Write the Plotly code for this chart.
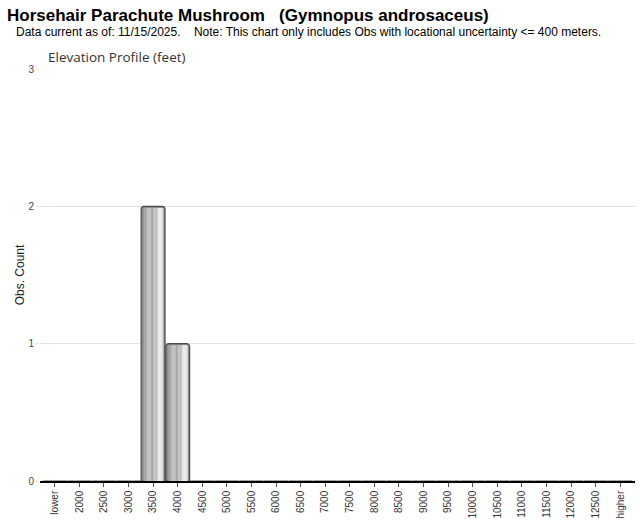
import plotly.graph_objects as go

categories = ["lower"] + [str(v) for v in range(2000, 13000, 500)] + ["higher"]
counts = [0, 0, 0, 0, 2, 1] + [0] * (len(categories) - 6)

title_text = "Horsehair Parachute Mushroom   (Gymnopus androsaceus)"
subtitle_text = "Data current as of: 11/15/2025.    Note: This chart only includes Obs with locational uncertainty <= 400 meters."
chart_label = "Elevation Profile (feet)"
y_title = "Obs. Count"

W, H = 640, 523
ML, MR, MT, MB = 40, 5, 69, 42
PW, PH = W - ML - MR, H - MT - MB

def px_x(px):
    return (px - ML) / PW

def px_y(py):
    return (H - MB - py) / PH

fig = go.Figure()
fig.add_trace(go.Bar(
    x=categories, y=counts, width=0.97,
    marker=dict(color="#8e8e8e", line=dict(color="#4a4a4a", width=1.2), cornerradius=3),
    hoverinfo="skip", showlegend=False,
))
# (left, right) edges in category units and colour, to mimic the cylindrical gradient
strips = [
    (-0.38, 0.42, "#a6a6a6"),
    (-0.26, -0.08, "#c2c2c2"),
    (0.00, 0.12, "#c6c6c6"),
    (0.14, 0.42, "#d4d4d4"),
    (0.20, 0.36, "#ebebeb"),
]
for lft, rgt, col in strips:
    fig.add_trace(go.Bar(
        x=categories, y=[c - 0.012 if c > 0 else 0 for c in counts],
        width=rgt - lft, offset=lft,
        marker=dict(color=col, line=dict(width=0)),
        hoverinfo="skip", showlegend=False,
    ))

fig.update_layout(
    width=W, height=H,
    margin=dict(l=ML, r=MR, t=MT, b=MB),
    paper_bgcolor="white", plot_bgcolor="white",
    barmode="overlay",
    font=dict(family="Liberation Sans, Arial, sans-serif", color="#222"),
    xaxis=dict(
        type="category", categoryorder="array", categoryarray=categories,
        tickangle=-90, tickfont=dict(size=10, color="#333"),
        showgrid=False, showline=True, linecolor="#000", linewidth=1.5,
        ticks="outside", ticklen=4, tickcolor="#555", tickwidth=1,
        range=[-0.6, len(categories) - 0.4],
    ),
    yaxis=dict(
        range=[0, 3], tickvals=[0, 1, 2, 3], tickfont=dict(size=10, color="#444"),
        showgrid=True, gridcolor="#e2e2e2", gridwidth=1, zeroline=False,
        ticks="outside", ticklen=3, tickcolor="#e2e2e2",
        title=dict(text=y_title, font=dict(size=12, color="#222"), standoff=1),
    ),
    annotations=[
        dict(text="<b>" + title_text + "</b>", xref="paper", yref="paper", x=px_x(5), y=px_y(15),
             xanchor="left", yanchor="middle", showarrow=False,
             font=dict(size=17, color="#000", family="Liberation Sans, Arial, sans-serif")),
        dict(text=subtitle_text, xref="paper", yref="paper", x=px_x(14), y=px_y(32),
             xanchor="left", yanchor="middle", showarrow=False,
             font=dict(size=12, color="#000", family="Liberation Sans, Arial, sans-serif")),
        dict(text=chart_label, xref="paper", yref="paper", x=px_x(46), y=px_y(57),
             xanchor="left", yanchor="middle", showarrow=False,
             font=dict(size=13.5, color="#333", family="Open Sans, sans-serif")),
    ],
)

fig.write_html("out.html", config={"displayModeBar": False},
               post_script="document.body.style.margin='0';")
